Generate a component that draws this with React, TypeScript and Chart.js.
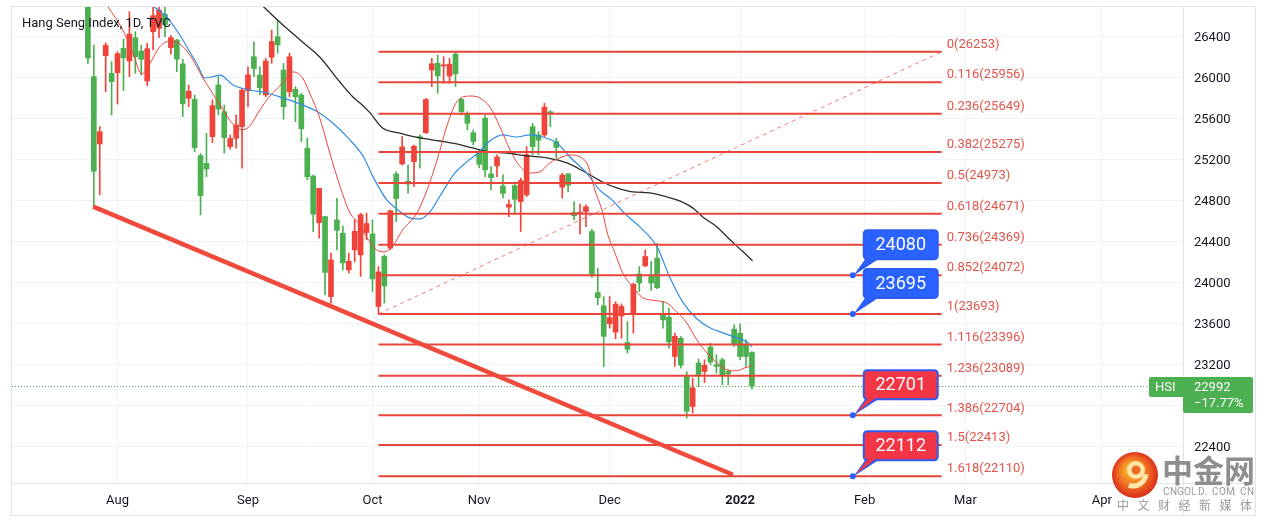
import React, { useEffect, useRef } from "react";
import { Chart, registerables } from "chart.js";

Chart.register(...registerables);

const FONT = "Roboto, 'Noto Sans', sans-serif";
const CJK = "'Noto Sans CJK SC', sans-serif";
const RISE = "#f0443a"; // red = rise (Chinese convention)
const FALL = "#4caf50"; // green = fall

// Daily candles, Jul 26 2021 (index 0) .. Jan 5 2022 (index 112), trading-day index
const opens = [
  27200, 26010, 25353, 26215, 26043, 26049, 26287, 26163, 26390, 26260,
  25968, 26449, 26482, 26618, 26293, 26368, 26134, 25799, 25789, 25239,
  25165, 25424, 25929, 25668, 25327, 25409, 25522, 25873, 26205, 26026,
  25831, 26199, 26400, 26075, 25863, 25887, 25831, 25311, 25041, 24585,
  24644, 23863, 24612, 24482, 24124, 24319, 24270, 24488, 24475, 23766,
  24254, 24336, 25060, 25158, 24989, 25180, 25424, 25463, 26075, 26140,
  26114, 26017, 26231, 25789, 25646, 25463, 25278, 25604, 25060, 25139,
  24944, 24736, 24946, 24790, 24856, 25522, 25441, 25441, 25668, 25376,
  24931, 25060, 24683, 24672, 24693, 24498, 23902, 23773, 23597, 23516,
  23675, 23415, 23701, 24085, 24163, 24059, 24238, 23685, 23662, 23278,
  23457, 23083, 22790, 23214, 23132, 23370, 23197, 23246, 23132, 23545,
  23506, 23392, 23317,
];
const highs = [
  27250, 26319, 25522, 26341, 26156, 26254, 26375, 26644, 26449, 26319,
  26336, 26693, 26720, 26700, 26410, 26375, 26180, 25929, 25831, 25262,
  25457, 25782, 26010, 25734, 25441, 25636, 25896, 26107, 26351, 26107,
  26189, 26465, 26563, 26140, 26238, 25912, 25848, 25409, 25051, 24921,
  24650, 24287, 24823, 24551, 24287, 24612, 24677, 24677, 24612, 24156,
  24270, 24709, 25083, 25424, 25148, 25343, 25441, 25799, 26189, 26221,
  26205, 26189, 26253, 25799, 25668, 25490, 25300, 25636, 25132, 25246,
  25051, 24807, 24970, 25018, 25327, 25555, 25473, 25750, 25678, 25409,
  25067, 25067, 24790, 24766, 24758, 24520, 24140, 23863, 23863, 23815,
  23792, 23620, 23994, 24156, 24319, 24205, 24384, 23815, 23750, 23506,
  23473, 23132, 23067, 23253, 23246, 23408, 23295, 23262, 23148, 23588,
  23597, 23441, 23327,
];
const lows = [
  26140, 24742, 24856, 25863, 25636, 25743, 25873, 26010, 26043, 26026,
  25922, 26270, 26390, 26400, 26230, 26059, 25620, 25717, 25278, 24660,
  25034, 25366, 25636, 25262, 25301, 25311, 25116, 25717, 26010, 25832,
  25815, 26140, 26238, 25595, 25815, 25571, 25376, 25002, 24498, 24433,
  23880, 23799, 24319, 24124, 24092, 24205, 24059, 24417, 23912, 23693,
  23799, 24319, 24595, 25148, 24872, 24937, 25116, 25457, 25912, 25848,
  25945, 25945, 25912, 25636, 25490, 25343, 25120, 25034, 24904, 25034,
  24823, 24644, 24677, 24498, 24839, 25246, 25246, 25424, 25522, 25214,
  24823, 24888, 24612, 24472, 24546, 24050, 23782, 23180, 23555, 23450,
  23457, 23311, 23506, 23912, 24156, 23922, 23940, 23555, 23360, 23180,
  23165, 22677, 22726, 22985, 23024, 23198, 23116, 23002, 23002, 23376,
  23246, 23180, 22960,
];
const closes = [
  26192, 25086, 25473, 26316, 25961, 26235, 26194, 26426, 26204, 26179,
  26283, 26605, 26660, 26517, 26391, 26181, 25745, 25867, 25316, 24849,
  25109, 25727, 25693, 25415, 25407, 25539, 25878, 26028, 26090, 25901,
  26163, 26353, 26320, 25716, 26205, 25813, 25502, 25033, 24667, 24920,
  24099, 24221, 24510, 24192, 24208, 24500, 24663, 24576, 24036, 24104,
  23966, 24701, 24820, 25325, 24962, 25331, 25409, 25787, 26136, 26018,
  26126, 26132, 26038, 25668, 25555, 25377, 25154, 25100, 25024, 25225,
  24871, 24763, 24813, 24996, 25248, 25327, 25390, 25713, 25650, 25319,
  25049, 24951, 24652, 24685, 24740, 24080, 23852, 23475, 23658, 23789,
  23767, 23349, 23983, 23996, 24254, 23996, 23950, 23635, 23420, 23475,
  23193, 22744, 22971, 23102, 23193, 23223, 23181, 23100, 23108, 23402,
  23278, 23278, 22992,
];

// Moving averages (trading-day index, value)
const maShortX = [2.0, 3.4, 5.9, 7.6, 9.1, 10.5, 12.1, 13.8, 15.5, 17.2, 19.4, 20.9, 22.6, 24.3, 26.0, 27.3, 29.0, 30.7, 32.7, 34.6, 36.1, 37.4, 39.1, 40.8, 42.5, 44.2, 45.9, 47.0, 48.7, 50.1, 51.3, 53.1, 55.5, 57.2, 58.9, 60.5, 61.9, 63.2, 64.8, 66.1, 67.8, 69.5, 71.2, 72.8, 74.5, 76.2, 77.9, 79.6, 81.3, 83.0, 84.3, 85.5, 86.7, 87.7, 88.7, 90.2, 91.9, 93.6, 96.0, 97.6, 99.3, 101.0, 102.7, 104.4, 106.1, 107.8, 109.4, 110.8, 112.0];
const maShortY = [26810, 26690, 26465, 26241, 26036, 26143, 26300, 26358, 26329, 26221, 25997, 25860, 25704, 25558, 25490, 25529, 25685, 25821, 25939, 26056, 26007, 25851, 25607, 25265, 24943, 24680, 24563, 24446, 24319, 24300, 24348, 24514, 24680, 24904, 25197, 25519, 25734, 25812, 25821, 25802, 25714, 25519, 25295, 25139, 25070, 25080, 25168, 25217, 25246, 25226, 25148, 24904, 24709, 24465, 24319, 24095, 23958, 23851, 23822, 23802, 23714, 23607, 23441, 23314, 23217, 23148, 23139, 23168, 23187];

const maMidX = [9.0, 11.0, 13.3, 15.5, 17.2, 18.5, 19.7, 20.9, 22.3, 24.5, 27.3, 30.2, 32.9, 35.8, 38.8, 41.3, 44.2, 46.5, 48.1, 50.4, 52.1, 54.3, 56.0, 57.7, 59.4, 61.9, 63.9, 65.8, 67.8, 70.0, 72.3, 74.5, 76.7, 79.1, 81.3, 84.1, 86.3, 88.4, 90.6, 93.1, 96.0, 98.1, 100.3, 102.7, 104.9, 107.1, 109.4, 111.1, 112.0];
const maMidY = [26820, 26700, 26592, 26417, 26251, 26124, 25997, 26007, 26026, 25929, 25880, 25851, 25802, 25743, 25665, 25558, 25392, 25226, 25032, 24807, 24719, 24631, 24621, 24690, 24846, 25070, 25178, 25265, 25382, 25441, 25421, 25441, 25421, 25363, 25226, 25070, 24904, 24807, 24670, 24543, 24348, 24056, 23812, 23646, 23558, 23509, 23460, 23421, 23373];

const maLongX = [27.0, 29.5, 32.9, 35.8, 39.1, 42.5, 44.7, 45.9, 47.6, 49.7, 52.6, 56.0, 59.4, 62.2, 64.9, 67.8, 70.7, 74.0, 77.4, 80.8, 84.1, 86.8, 89.2, 91.9, 94.8, 97.6, 99.8, 102.0, 103.7, 106.1, 108.3, 110.5, 112.1];
const maLongY = [26850, 26700, 26514, 26368, 26202, 25958, 25812, 25753, 25656, 25509, 25460, 25412, 25382, 25353, 25314, 25275, 25265, 25236, 25217, 25168, 25070, 24982, 24924, 24885, 24875, 24836, 24797, 24729, 24641, 24543, 24417, 24300, 24212];

// Fibonacci extension drawing
const fibRatios = ["0", "0.116", "0.236", "0.382", "0.5", "0.618", "0.736", "0.852", "1", "1.116", "1.236", "1.386", "1.5", "1.618"];
const fibLevels = [26253, 25956, 25649, 25275, 24973, 24671, 24369, 24072, 23693, 23396, 23089, 22704, 22413, 22110];
const fibRange = [49, 144];
const fibDiagY = [23693, 26253];

// Falling trend line
const trendX = [0.9, 108.8];
const trendY = [24741, 22124];

// Callouts
const calloutIdx = 129;
const calloutValues = [24072, 23693, 22704, 22110];
const calloutTexts = ["24080", "23695", "22701", "22112"];
const calloutRed = [false, false, true, true];

// Axes
const monthTickIdx = [5, 27, 48, 66, 88, 110, 131, 148, 171];
const monthTickLabels = ["Aug", "Sep", "Oct", "Nov", "Dec", "2022", "Feb", "Mar", "Apr"];
const priceTicks = [22400, 22800, 23200, 23600, 24000, 24400, 24800, 25200, 25600, 26000, 26400];
const viewIdx = [-12.8, 184.7];
const viewPrice = [22043, 26700];

const lastPrice = 22992;
const lastChange = "\u221217.77%";
const symbol = "HSI";
const title = "Hang Seng Index, 1D, TVC";

function roundRect(ctx: CanvasRenderingContext2D, x: number, y: number, w: number, h: number, r: number) {
  ctx.beginPath();
  ctx.moveTo(x + r, y);
  ctx.lineTo(x + w - r, y);
  ctx.quadraticCurveTo(x + w, y, x + w, y + r);
  ctx.lineTo(x + w, y + h - r);
  ctx.quadraticCurveTo(x + w, y + h, x + w - r, y + h);
  ctx.lineTo(x + r, y + h);
  ctx.quadraticCurveTo(x, y + h, x, y + h - r);
  ctx.lineTo(x, y + r);
  ctx.quadraticCurveTo(x, y, x + r, y);
  ctx.closePath();
}

const overlay = {
  id: "overlay",
  beforeDatasetsDraw(chart: any) {
    const { ctx, chartArea, scales } = chart;
    const py = Math.round(scales.y.getPixelForValue(lastPrice)) + 0.5;
    ctx.save();
    ctx.strokeStyle = "#4caf50";
    ctx.lineWidth = 1;
    ctx.setLineDash([1, 2]);
    ctx.beginPath();
    ctx.moveTo(chartArea.left, py);
    ctx.lineTo(chartArea.right, py);
    ctx.stroke();
    ctx.restore();
  },
  afterDatasetsDraw(chart: any) {
    const { ctx, chartArea, scales } = chart;
    const xs = scales.x, ys = scales.y;
    ctx.save();
    // fib labels
    ctx.font = `13px ${FONT}`;
    ctx.fillStyle = "#e25449";
    ctx.textBaseline = "middle";
    ctx.textAlign = "left";
    const lx = xs.getPixelForValue(fibRange[1]) + 5;
    fibLevels.forEach((lv, i) => {
      ctx.fillText(`${fibRatios[i]}(${lv})`, lx, ys.getPixelForValue(lv) - 7);
    });
    // callouts
    calloutValues.forEach((v, i) => {
      const ax = xs.getPixelForValue(calloutIdx);
      const ay = ys.getPixelForValue(v);
      const bx = ax + 11, by = ay - 45, w = 74, h = 29;
      const fill = calloutRed[i] ? "#f23645" : "#2962ff";
      roundRect(ctx, bx, by, w, h, 4);
      ctx.fillStyle = fill;
      ctx.fill();
      ctx.lineWidth = 2;
      ctx.strokeStyle = "#2f5bf0";
      ctx.stroke();
      ctx.beginPath();
      ctx.moveTo(bx + 2, by + h - 1);
      ctx.lineTo(bx + 16, by + h - 1);
      ctx.lineTo(ax + 1, ay);
      ctx.closePath();
      ctx.fillStyle = "#2f5bf0";
      ctx.fill();
      ctx.beginPath();
      ctx.moveTo(bx + 5, by + h - 2);
      ctx.lineTo(bx + 13, by + h - 2);
      ctx.lineTo(ax + 3, ay - 2);
      ctx.closePath();
      ctx.fillStyle = fill;
      ctx.fill();
      ctx.beginPath();
      ctx.arc(ax, ay, 3, 0, Math.PI * 2);
      ctx.fillStyle = "#2962ff";
      ctx.fill();
      ctx.fillStyle = "#ffffff";
      ctx.font = `18px ${FONT}`;
      ctx.textAlign = "center";
      ctx.textBaseline = "middle";
      ctx.fillText(calloutTexts[i], bx + w / 2, by + h / 2 + 1);
    });
    // title
    ctx.font = `13px ${FONT}`;
    ctx.fillStyle = "#131722";
    ctx.textAlign = "left";
    ctx.textBaseline = "middle";
    ctx.fillText(title, chartArea.left + 10, chartArea.top + 18);
    ctx.restore();
  },
  afterDraw(chart: any) {
    const { ctx, chartArea, scales } = chart;
    const ys = scales.y;
    ctx.save();
    // frame
    ctx.strokeStyle = "#e0e3eb";
    ctx.lineWidth = 1;
    const L = chartArea.left - 0.5, T = chartArea.top + 0.5;
    const R = ys.right - 0.5, B = scales.x.bottom - 0.5;
    ctx.strokeRect(L, T, R - L, B - T);
    ctx.beginPath();
    ctx.moveTo(chartArea.right + 0.5, T);
    ctx.lineTo(chartArea.right + 0.5, B);
    ctx.moveTo(L, chartArea.bottom + 0.5);
    ctx.lineTo(R, chartArea.bottom + 0.5);
    ctx.stroke();
    // last price tag
    const py = ys.getPixelForValue(lastPrice);
    const top = Math.round(py) - 9;
    ctx.fillStyle = "#4caf50";
    roundRect(ctx, chartArea.right - 34, top, 36, 20, 2);
    ctx.fill();
    roundRect(ctx, chartArea.right, top, 70, 36, 2);
    ctx.fill();
    ctx.fillStyle = "#ffffff";
    ctx.font = `13px ${FONT}`;
    ctx.textAlign = "left";
    ctx.textBaseline = "middle";
    ctx.fillText(symbol, chartArea.right - 28, top + 10.5);
    ctx.fillText(String(lastPrice), chartArea.right + 11, top + 10.5);
    ctx.fillText(lastChange, chartArea.right + 11, top + 27);
    // watermark
    const cx = 1135, cy = 475;
    const g = ctx.createRadialGradient(cx - 4, cy - 6, 4, cx, cy, 24);
    g.addColorStop(0, "#f8b62b");
    g.addColorStop(0.55, "#ef6b22");
    g.addColorStop(1, "#d9261c");
    ctx.beginPath();
    ctx.arc(cx, cy, 23, 0, Math.PI * 2);
    ctx.fillStyle = g;
    ctx.fill();
    ctx.beginPath();
    ctx.arc(cx + 1, cy - 5, 9, 0, Math.PI * 2);
    ctx.fillStyle = "#fde6a8";
    ctx.fill();
    ctx.beginPath();
    ctx.arc(cx + 1, cy - 5, 4.5, 0, Math.PI * 2);
    ctx.fillStyle = "#ef6b22";
    ctx.fill();
    ctx.beginPath();
    ctx.lineWidth = 5;
    ctx.strokeStyle = "#fde6a8";
    ctx.arc(cx - 2, cy - 2, 13, 0.1, 1.9);
    ctx.stroke();
    ctx.fillStyle = "#8e8e8e";
    ctx.font = `bold 31px ${CJK}`;
    ctx.textAlign = "left";
    ctx.textBaseline = "middle";
    ctx.fillText("中金网", 1162, 470);
    ctx.font = `10px ${FONT}`;
    ctx.fillStyle = "#9a9a9a";
    const cn = "CNGOLD.COM.CN";
    for (let i = 0; i < cn.length; i++) ctx.fillText(cn[i], 1163 + i * 7, 492.5);
    ctx.font = `12px ${CJK}`;
    const sub = "中文财经新媒体";
    for (let i = 0; i < sub.length; i++) ctx.fillText(sub[i], 1117 + i * 20.5, 505.5);
    ctx.restore();
  },
};

export default function App() {
  const ref = useRef<HTMLCanvasElement>(null);
  useEffect(() => {
    const canvas = ref.current;
    if (!canvas) return;
    const colors = opens.map((o, i) => (closes[i] >= o ? RISE : FALL));
    const pts = (xs: number[], ys: number[]) => xs.map((x, i) => ({ x, y: ys[i] }));
    const datasets: any[] = [];
    datasets.push({
      type: "line",
      data: pts(trendX, trendY),
      borderColor: "#ef4a3c",
      borderWidth: 4.5,
      pointRadius: 0,
      order: 1,
    });
    fibLevels.forEach((lv) => {
      datasets.push({
        type: "line",
        data: fibRange.map((x) => ({ x, y: lv })),
        borderColor: "#e8443a",
        borderWidth: 2,
        pointRadius: 0,
        order: 2,
      });
    });
    datasets.push({
      type: "line",
      data: pts(fibRange, fibDiagY),
      borderColor: "rgba(232,68,58,0.7)",
      borderWidth: 1,
      borderDash: [4, 4],
      pointRadius: 0,
      order: 2,
    });
    datasets.push({
      type: "line",
      data: pts(maShortX, maShortY),
      borderColor: "#e8453c",
      borderWidth: 1,
      pointRadius: 0,
      cubicInterpolationMode: "monotone",
      order: 3,
    });
    datasets.push({
      type: "line",
      data: pts(maMidX, maMidY),
      borderColor: "#2f8de4",
      borderWidth: 1.2,
      pointRadius: 0,
      cubicInterpolationMode: "monotone",
      order: 3,
    });
    datasets.push({
      type: "line",
      data: pts(maLongX, maLongY),
      borderColor: "#2b2b2b",
      borderWidth: 1.3,
      pointRadius: 0,
      cubicInterpolationMode: "monotone",
      order: 3,
    });
    datasets.push({
      type: "bar",
      data: opens.map((o, i) => ({ x: i, y: [o, closes[i]] })),
      backgroundColor: colors,
      barThickness: 5,
      minBarLength: 1,
      grouped: false,
      order: 4,
    });
    datasets.push({
      type: "bar",
      data: opens.map((o, i) => ({ x: i, y: [lows[i], highs[i]] })),
      backgroundColor: colors,
      barThickness: 1,
      grouped: false,
      order: 5,
    });

    const chart = new Chart(canvas, {
      type: "bar",
      data: { datasets },
      options: {
        responsive: false,
        animation: false,
        devicePixelRatio: 1,
        events: [],
        layout: { padding: { left: 12, top: 6, right: 13, bottom: 8 } },
        plugins: { legend: { display: false }, tooltip: { enabled: false } },
        scales: {
          x: {
            type: "linear",
            min: viewIdx[0],
            max: viewIdx[1],
            offset: false,
            grid: { color: "#f0f3fa", drawTicks: false, offset: false },
            border: { display: false },
            afterBuildTicks: (s: any) => {
              s.ticks = monthTickIdx.map((v) => ({ value: v }));
            },
            afterFit: (s: any) => {
              s.height = 33;
              s.paddingLeft = 0;
              s.paddingRight = 0;
              s.paddingTop = 0;
              s.paddingBottom = 0;
            },
            ticks: {
              autoSkip: false,
              maxRotation: 0,
              padding: 10,
              color: "#131722",
              font: (c: any) => ({
                family: FONT,
                size: 13,
                weight: c.tick && c.tick.value === monthTickIdx[5] ? "bold" : "normal",
              }),
              callback: (v: any) => {
                const k = monthTickIdx.indexOf(Number(v));
                return k >= 0 ? monthTickLabels[k] : "";
              },
            },
          },
          y: {
            type: "linear",
            position: "right",
            min: viewPrice[0],
            max: viewPrice[1],
            grid: { color: "#f0f3fa", drawTicks: false },
            border: { display: false },
            afterBuildTicks: (s: any) => {
              s.ticks = priceTicks.map((v) => ({ value: v }));
            },
            afterFit: (s: any) => {
              s.width = 73;
              s.paddingLeft = 0;
              s.paddingRight = 0;
              s.paddingTop = 0;
              s.paddingBottom = 0;
            },
            ticks: {
              padding: 11,
              labelOffset: 1.5,
              color: "#131722",
              font: { family: FONT, size: 13 },
              callback: (v: any) => String(v),
            },
          },
        },
      } as any,
      plugins: [overlay],
    });
    return () => chart.destroy();
  }, []);
  return (
    <div style={{ position: "fixed", left: 0, top: 0, width: 1269, height: 524, background: "#ffffff" }}>
      <canvas ref={ref} width={1269} height={524} style={{ display: "block" }} />
    </div>
  );
}
